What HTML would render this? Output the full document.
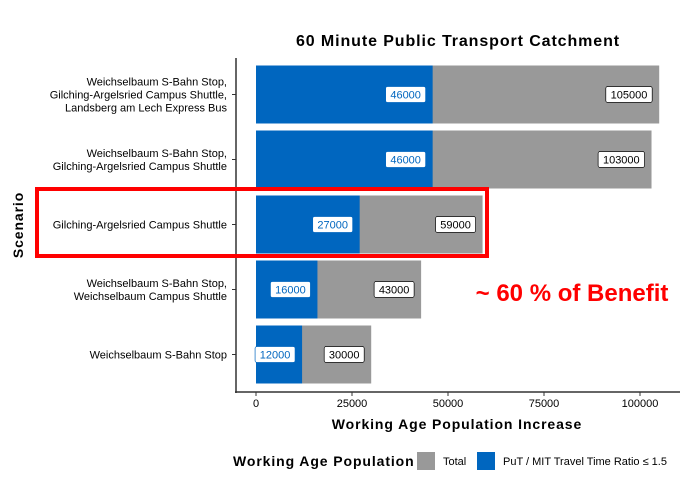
<!DOCTYPE html>
<html><head><meta charset="utf-8"><style>
body{margin:0;background:#fff;font-family:"Liberation Sans",Arial,sans-serif}
</style></head><body>
<svg width="696" height="494" xmlns="http://www.w3.org/2000/svg" font-family="Liberation Sans, Arial, sans-serif">
<text x="458" y="46" text-anchor="middle" font-size="16" font-weight="bold" letter-spacing="0.9">60 Minute Public Transport Catchment</text>
<g id="bars"></g>
<g id="ylabels" font-size="11" text-anchor="end"></g>
<line x1="236" y1="58" x2="236" y2="393" stroke="#333" stroke-width="1.5"/>
<line x1="235" y1="392" x2="680" y2="392" stroke="#333" stroke-width="1.5"/>
<g id="xticks" font-size="11" text-anchor="middle"></g>
<text x="457" y="429" text-anchor="middle" font-size="14" font-weight="bold" letter-spacing="0.9">Working Age Population Increase</text>
<text transform="translate(23,225) rotate(-90)" text-anchor="middle" font-size="14" font-weight="bold" letter-spacing="0.9">Scenario</text>
<rect x="37" y="189" width="450" height="67" fill="none" stroke="#ff0000" stroke-width="4"/>
<text x="572" y="301" text-anchor="middle" font-size="24" font-weight="bold" fill="#ff0000">~ 60 % of Benefit</text>
<g>
<text x="233" y="466" font-size="14" font-weight="bold" letter-spacing="0.9">Working Age Population</text>
<rect x="417" y="452" width="18" height="18" fill="#999999"/>
<text x="443" y="465" font-size="11">Total</text>
<rect x="477" y="452" width="18" height="18" fill="#0066bf"/>
<text x="503" y="465" font-size="11">PuT / MIT Travel Time Ratio ≤ 1.5</text>
</g>
</svg>
<script>
const scenarios=[["Weichselbaum S-Bahn Stop,","Gilching-Argelsried Campus Shuttle,","Landsberg am Lech Express Bus"],["Weichselbaum S-Bahn Stop,","Gilching-Argelsried Campus Shuttle"],["Gilching-Argelsried Campus Shuttle"],["Weichselbaum S-Bahn Stop,","Weichselbaum Campus Shuttle"],["Weichselbaum S-Bahn Stop"]];
const totalValues=[105000,103000,59000,43000,30000];
const ratioValues=[46000,46000,27000,16000,12000];
const xTicks=[0,25000,50000,75000,100000];
const NS="http://www.w3.org/2000/svg";
const xs=v=>256+v*384/100000;
const yc=i=>94.5+i*65;
function mk(tag,attrs,parent){const e=document.createElementNS(NS,tag);for(const k in attrs)e.setAttribute(k,attrs[k]);parent.appendChild(e);return e;}
const bars=document.getElementById('bars'),yl=document.getElementById('ylabels'),xt=document.getElementById('xticks');
scenarios.forEach((lines,i)=>{
  const y=yc(i);
  const t=mk('rect',{x:xs(0),y:y-29,width:xs(totalValues[i])-xs(0),height:58,fill:'#999999'},bars);
  
  
  const b=mk('rect',{x:xs(0),y:y-29,width:xs(ratioValues[i])-xs(0),height:58,fill:'#0066bf'},bars);
  
  
  [[totalValues[i],'#000'],[ratioValues[i],'#0066bf']].forEach(([v,c],k)=>{
    const s=String(v),w=s.length*6.4+8,right=xs(v)-7;
    const r=mk('rect',{x:right-w,y:y-8,width:w,height:16,rx:2,fill:'#fff',stroke:c,'stroke-width':0.7},bars);
    
    
    const tx=mk('text',{x:right-w/2,y:y+4,'text-anchor':'middle','font-size':11,fill:c},bars);
    tx.textContent=s;
    
    
  });
  const n=lines.length;
  lines.forEach((ln,j)=>{
    const tx=mk('text',{x:227,y:y+4+(j-(n-1)/2)*13},yl);
    tx.textContent=ln;
    
    
  });
  mk('line',{x1:232,x2:236,y1:y,y2:y,stroke:'#333'},yl);
});
xTicks.forEach(v=>{
  mk('line',{x1:xs(v),x2:xs(v),y1:392,y2:396,stroke:'#333'},xt);
  const tx=mk('text',{x:xs(v),y:407},xt);
  tx.textContent=v;
  
  
});
</script>
</body></html>
